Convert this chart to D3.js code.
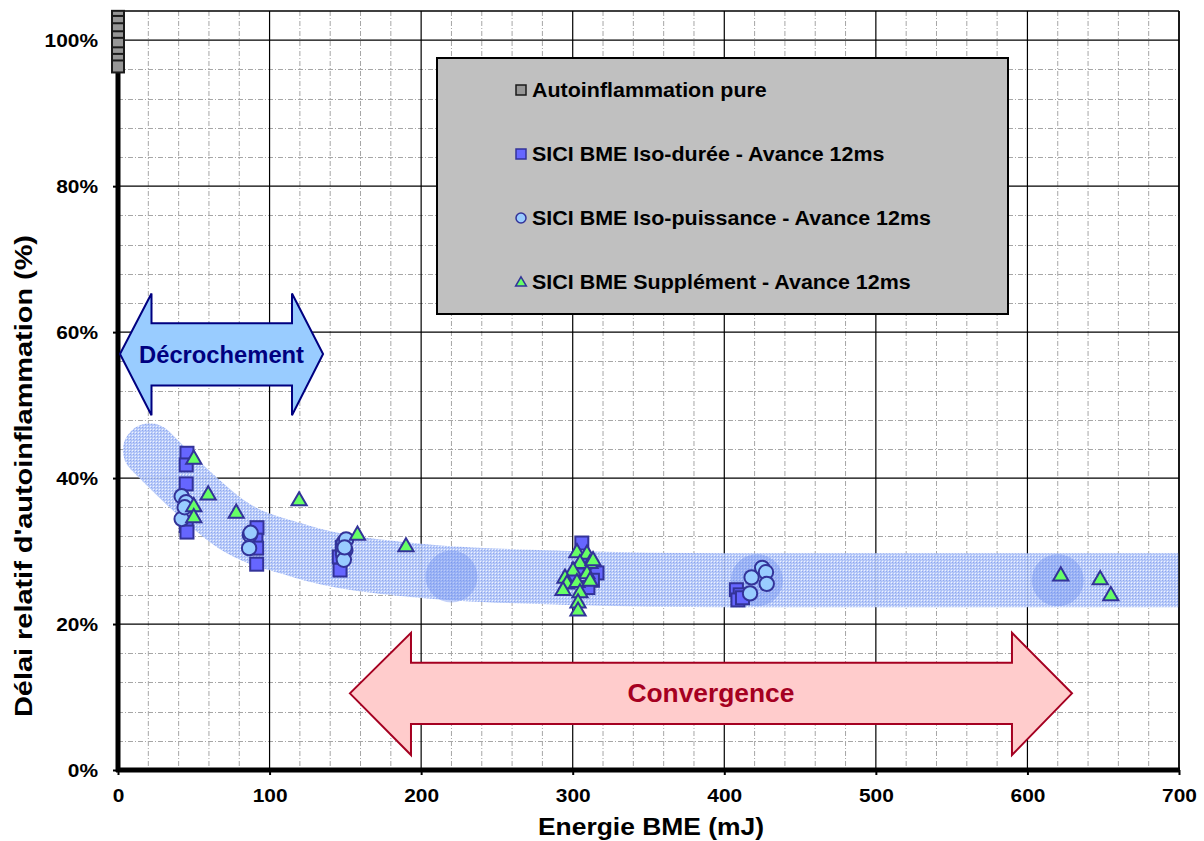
<!DOCTYPE html>
<html><head><meta charset="utf-8">
<script src="https://cdn.jsdelivr.net/npm/d3@7"></script>
<style>
body{margin:0;background:#fff}
text{font-family:"Liberation Sans",Arial,sans-serif;font-weight:bold}
</style>
</head><body>
<svg id="chart" width="1204" height="841"></svg>
<script>
// ---------- DATA ----------
const xTickValues = [0,100,200,300,400,500,600,700];
const xTickLabels = ["0","100","200","300","400","500","600","700"];
const yTickValues = [0,0.2,0.4,0.6,0.8,1.0];
const yTickLabels = ["0%","20%","40%","60%","80%","100%"];
const seriesNames = ["Autoinflammation pure","SICI BME Iso-durée - Avance 12ms","SICI BME Iso-puissance - Avance 12ms","SICI BME Supplément - Avance 12ms"];
const xTitle = "Energie BME (mJ)";
const yTitle = "Délai relatif d'autoinflammation (%)";

// [energy mJ, relative delay]
const purePts = [[0,1.032],[0,1.025],[0,1.015],[0,1.004],[0,0.995],[0,0.982],[0,0.973],[0,0.964]];
const isoDureePts = [[45.5,0.434],[45,0.418],[45,0.392],[45,0.335],[45.5,0.326],
  [91.7,0.332],[91,0.315],[91.5,0.304],[91.5,0.282],
  [146.5,0.274],[146,0.292],[148,0.305],
  [306,0.311],[316,0.270],[313,0.260],[310,0.250],[304,0.275],[300,0.260],[308,0.285],
  [408,0.247],[410.5,0.240],[409,0.233],[412,0.236]];
const isoPuissancePts = [[42,0.375],[45,0.367],[42,0.344],[44,0.360],
  [87,0.322],[86.5,0.304],[87.5,0.325],
  [149,0.312],[150,0.301],[148.5,0.295],[149,0.288],[150.5,0.316],[149.5,0.305],
  [418,0.264],[425,0.277],[427.5,0.271],[428,0.255],[417,0.242]];
const supplementPts = [[50,0.427],[50,0.362],[50,0.347],[59.5,0.378],[78,0.353],[119.5,0.370],[158,0.323],[190,0.307],
  [302.8,0.299],[309.4,0.297],[311.4,0.284],[304.8,0.284],[300.2,0.274],[309.4,0.270],[313.4,0.288],[294.9,0.264],
  [296.2,0.256],[302.8,0.258],[311.4,0.260],[293.6,0.247],[304.8,0.244],[303.5,0.230],[303.5,0.219],
  [622,0.267],[648,0.262],[655,0.240]];

// shaded trend band (centre line) and highlight blobs
const bandX = [21,42,76,120,200,300,400,550,720];
const bandY = [0.438,0.395,0.335,0.300,0.273,0.263,0.260,0.260,0.260];
const blobX = [220,421.5,620];
const blobY = [0.265,0.260,0.260];

// annotation arrows: [tip, neck, neck, tip] in mJ ; [mid, headTop, bodyTop, bodyBot, headBot]
const decroX = [1.3,22.1,114.8,135.3];
const decroY = [0.57,0.653,0.612,0.527,0.486];
const decroLabel = "Décrochement";
const convX = [153,193.3,589.8,629.4];
const convY = [0.105,0.188,0.147,0.063,0.0205];
const convLabel = "Convergence";

// ---------- CHART ----------
const svg = d3.select("#chart");
const L=118, R=1179, T=11, B=770;
const x = d3.scaleLinear().domain([0,700]).range([L,R]);
const y = d3.scaleLinear().domain([0,1.04]).range([B,T]);

const defs = svg.append("defs");
const pat = defs.append("pattern").attr("id","dots").attr("patternUnits","userSpaceOnUse").attr("width",3).attr("height",3);
pat.append("rect").attr("width",3).attr("height",3).attr("fill","#b6c9f8");
pat.append("rect").attr("x",0).attr("y",0).attr("width",1).attr("height",1).attr("fill","#eef3ff");
pat.append("rect").attr("x",1).attr("y",1).attr("width",1).attr("height",1).attr("fill","#849ff0");
pat.append("rect").attr("x",2).attr("y",2).attr("width",1).attr("height",1).attr("fill","#9fb6f4");
defs.append("clipPath").attr("id","plotclip").append("rect").attr("x",L-40).attr("y",T).attr("width",R-L+40).attr("height",B-T);

// minor grid
const minorX = d3.range(20,700,20).filter(v=>v%100!==0);
const minorY = d3.range(0.04,1.04,0.04).filter(v=>Math.abs(v*5-Math.round(v*5))>1e-6);
const g = svg.append("g");
g.selectAll("line.mx").data(minorX).join("line").attr("x1",d=>x(d)).attr("x2",d=>x(d)).attr("y1",T).attr("y2",B)
  .attr("stroke","#a6a6a6").attr("stroke-width",1).attr("stroke-dasharray","5,2,1,2");
g.selectAll("line.my").data(minorY).join("line").attr("y1",d=>Math.round(y(d))+0.5).attr("y2",d=>Math.round(y(d))+0.5).attr("x1",L).attr("x2",R)
  .attr("stroke","#a6a6a6").attr("stroke-width",1).attr("stroke-dasharray","5,2,1,2");
// major grid
g.selectAll("line.Mx").data(xTickValues.slice(1)).join("line").attr("x1",d=>x(d)).attr("x2",d=>x(d)).attr("y1",T).attr("y2",B)
  .attr("stroke","#000").attr("stroke-width",1.2);
g.selectAll("line.My").data(yTickValues.slice(1)).join("line").attr("y1",d=>y(d)).attr("y2",d=>y(d)).attr("x1",L).attr("x2",R)
  .attr("stroke","#000").attr("stroke-width",1.2);
// top border
svg.append("line").attr("x1",L).attr("x2",R).attr("y1",T).attr("y2",T).attr("stroke","#000").attr("stroke-width",1.5);

// band
const bandG = svg.append("g").attr("clip-path","url(#plotclip)");
const bandLine = d3.line().x((d,i)=>x(bandX[i])).y((d,i)=>y(bandY[i])).curve(d3.curveMonotoneX);
bandG.append("path").attr("d",bandLine(bandX)).attr("fill","none").attr("stroke","url(#dots)")
  .attr("stroke-width",54).attr("stroke-linecap","round").attr("stroke-linejoin","round").attr("opacity",0.92);
bandG.selectAll("circle").data(blobX).join("circle").attr("cx",d=>x(d)).attr("cy",(d,i)=>y(blobY[i])).attr("r",26)
  .attr("fill","#6a8bf0").attr("opacity",0.38);

// axes
const yAxis = d3.axisLeft(y).tickValues(yTickValues).tickFormat((d,i)=>yTickLabels[i]).tickSize(5).tickPadding(15);
const ya = svg.append("g").attr("transform",`translate(${L},0)`).call(yAxis);
ya.select(".domain").remove();
ya.selectAll("line").attr("stroke","#000").attr("stroke-width",2);
ya.selectAll("text").attr("class","s").attr("data-w",null).attr("font-size",19).attr("fill","#000").attr("font-family","Liberation Sans");
const xAxis = d3.axisBottom(x).tickValues(xTickValues).tickFormat((d,i)=>xTickLabels[i]).tickSize(5).tickPadding(14);
const xa = svg.append("g").attr("transform",`translate(0,${B})`).call(xAxis);
xa.select(".domain").remove();
xa.selectAll("line").attr("stroke","#000").attr("stroke-width",2);
xa.selectAll("text").attr("class","s").attr("font-size",19).attr("fill","#000").attr("font-family","Liberation Sans");
svg.append("line").attr("x1",R).attr("x2",R).attr("y1",T).attr("y2",B).attr("stroke","#000").attr("stroke-width",1.5);
svg.append("line").attr("x1",L).attr("x2",L).attr("y1",T-1).attr("y2",B+2).attr("stroke","#000").attr("stroke-width",5);
svg.append("line").attr("x1",L-2).attr("x2",R+1).attr("y1",B).attr("y2",B).attr("stroke","#000").attr("stroke-width",5);

// titles
svg.append("text").attr("class","s t").attr("data-w",226).attr("x",651).attr("y",835).attr("text-anchor","middle").attr("font-size",24).text(xTitle);
svg.append("text").attr("class","s t").attr("data-w",482).attr("transform","translate(32,476) rotate(-90)").attr("text-anchor","middle").attr("font-size",24).text(yTitle);

// markers
const navy = "#333399";
const pts = svg.append("g");
pts.selectAll("rect.pure").data(purePts).join("rect").attr("x",d=>x(d[0])-6).attr("y",d=>y(d[1])-6)
  .attr("width",12).attr("height",12).attr("fill","#969696").attr("stroke","#1a1a1a").attr("stroke-width",2);
pts.selectAll("rect.dur").data(isoDureePts).join("rect").attr("x",d=>x(d[0])-6.5).attr("y",d=>y(d[1])-6.5)
  .attr("width",13).attr("height",13).attr("fill","#6666ff").attr("stroke",navy).attr("stroke-width",2);
pts.selectAll("circle.pui").data(isoPuissancePts).join("circle").attr("cx",d=>x(d[0])).attr("cy",d=>y(d[1])).attr("r",7.2)
  .attr("fill","#99ccff").attr("stroke",navy).attr("stroke-width",2);
const tri = d3.symbol().type(d3.symbolTriangle).size(100);
pts.selectAll("path.sup").data(supplementPts).join("path").attr("d",tri).attr("transform",d=>`translate(${x(d[0])},${y(d[1])+1})`)
  .attr("fill","#66ff66").attr("stroke",navy).attr("stroke-width",2);

// arrows
function arrowPath(ax, ay){
  const [t1,n1,n2,t2]=ax.map(x), [m,ht,bt,bb,hb]=ay.map(y);
  return `M${t1},${m}L${n1},${ht}L${n1},${bt}L${n2},${bt}L${n2},${ht}L${t2},${m}L${n2},${hb}L${n2},${bb}L${n1},${bb}L${n1},${hb}Z`;
}
svg.append("path").attr("d",arrowPath(decroX,decroY)).attr("fill","#99ccff").attr("stroke","#000080").attr("stroke-width",2).attr("stroke-linejoin","miter");
svg.append("text").attr("class","s t").attr("data-w",165).attr("x",(x(decroX[0])+x(decroX[3]))/2).attr("y",y(decroY[0])+8.5)
  .attr("text-anchor","middle").attr("font-size",23).attr("fill","#000080").text(decroLabel);
svg.append("path").attr("d",arrowPath(convX,convY)).attr("fill","#ffcccc").attr("stroke","#a50021").attr("stroke-width",2).attr("stroke-linejoin","miter");
svg.append("text").attr("class","s t").attr("data-w",167).attr("x",(x(convX[0])+x(convX[3]))/2).attr("y",y(convY[0])+9)
  .attr("text-anchor","middle").attr("font-size",25).attr("fill","#a50021").text(convLabel);

// legend
const lg = svg.append("g");
lg.append("rect").attr("x",437).attr("y",58).attr("width",571).attr("height",256).attr("fill","#c0c0c0").attr("stroke","#000").attr("stroke-width",2);
const rowsY = [90,154,218,282];
const lx = 521;
lg.append("rect").attr("x",lx-5).attr("y",rowsY[0]-5).attr("width",10).attr("height",10).attr("fill","#969696").attr("stroke","#1a1a1a").attr("stroke-width",1.5);
lg.append("rect").attr("x",lx-5).attr("y",rowsY[1]-5).attr("width",10).attr("height",10).attr("fill","#6666ff").attr("stroke",navy).attr("stroke-width",1.5);
lg.append("circle").attr("cx",lx).attr("cy",rowsY[2]).attr("r",5).attr("fill","#99ccff").attr("stroke",navy).attr("stroke-width",1.5);
lg.append("path").attr("d",d3.symbol().type(d3.symbolTriangle).size(50)).attr("transform",`translate(${lx},${rowsY[3]+1})`).attr("fill","#66ff66").attr("stroke",navy).attr("stroke-width",1.5);
lg.selectAll("text").data(seriesNames).join("text").attr("class","s").attr("x",532).attr("y",(d,i)=>rowsY[i]+7)
  .attr("font-size",19.5).attr("fill","#000").text(d=>d);

// horizontal stretch to mimic the original rendering
svg.selectAll("text.s").each(function(){
  const w = this.getAttribute("data-w");
  const nat = this.getComputedTextLength();
  const target = w ? +w : nat*1.1;
  this.setAttribute("textLength", target);
  this.setAttribute("lengthAdjust","spacingAndGlyphs");
});
</script>
</body></html>
